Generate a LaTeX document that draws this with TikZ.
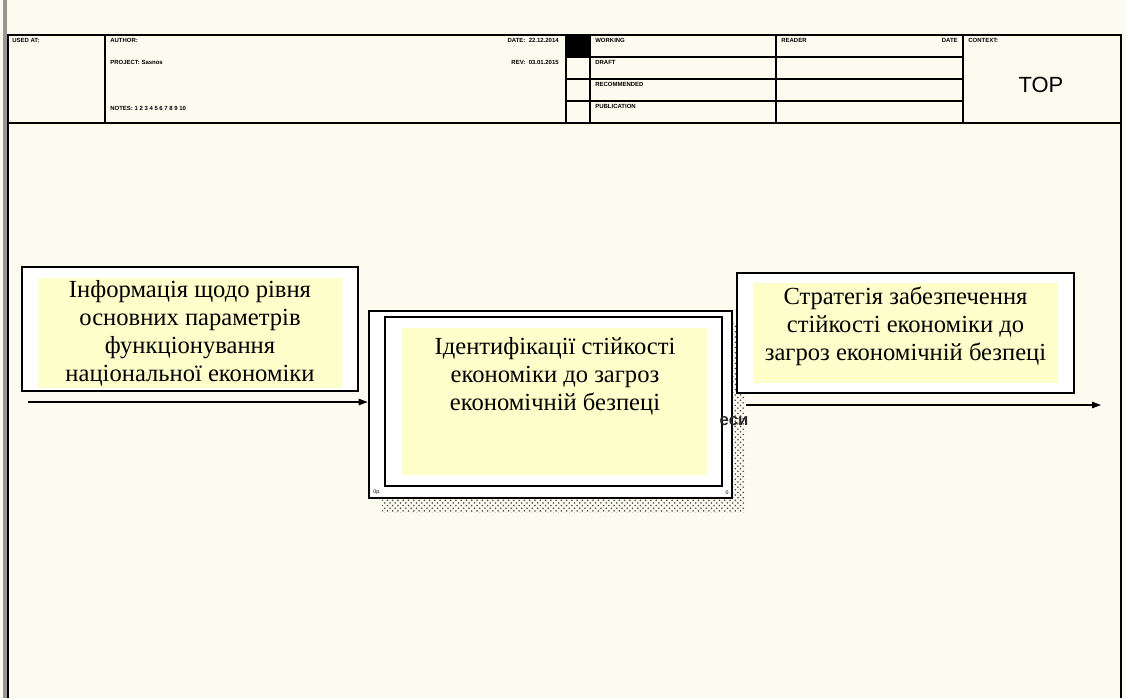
\documentclass[tikz,border=0pt]{standalone}
\usepackage{fontspec}
\setmainfont{Liberation Serif}
\newfontfamily\hdrfont{Liberation Sans}
\usetikzlibrary{arrows.meta, positioning, patterns}
\definecolor{pagecream}{RGB}{253, 250, 240}
\definecolor{boxyellow}{RGB}{255, 255, 204}
\definecolor{margingray}{RGB}{150, 150, 150}
\definecolor{shadowgray}{RGB}{70, 70, 70}

\begin{document}
\begin{tikzpicture}[
  x=0.02cm, y=-0.02cm,
  hdr/.style={font=\hdrfont\bfseries\fontsize{3.4}{4}\selectfont, anchor=north west, inner sep=0pt},
  arrowbox/.style={rectangle, draw, line width=1.1pt, fill=white, inner sep=0pt},
  yellowfill/.style={rectangle, fill=boxyellow, inner sep=0pt},
  boxtext/.style={inner sep=0pt, align=center, font=\fontsize{14}{16}\selectfont},
  arrow/.style={-{Triangle[length=1.8mm, width=1.3mm]}, line width=0.6pt}
]
\useasboundingbox (0,0) rectangle (1126,698);
\fill[pagecream] (0,0) rectangle (1126,698);

% Page frame
\draw[margingray, line width=2pt] (5,0) -- (5,698);
\draw[line width=0.7pt] (8,698) -- (8,35) -- (1121,35) -- (1121,698);
\draw[line width=1pt] (8,123) -- (1121,123);

% Header cells
\draw[line width=0.7pt] (105,35) -- (105,123);
\draw[line width=0.7pt] (566,35) -- (566,123);
\draw[line width=0.7pt] (590,35) -- (590,123);
\draw[line width=0.7pt] (776,35) -- (776,123);
\draw[line width=0.7pt] (963,35) -- (963,123);
\foreach \y in {57,79,101}
  \draw[line width=0.7pt] (566,\y) -- (963,\y);
\fill (566,35) rectangle (590,57);

% Header texts
\node[hdr] (usedat) at (12,38) {USED AT:};
\node[hdr] (author) at (110,38) {AUTHOR:};
\node[hdr] (project) at (110,60) {PROJECT: Sasnos};
\node[hdr] (notes) at (110,106) {NOTES: 1 2 3 4 5 6 7 8 9 10};
\node[hdr, anchor=north east] (date) at (559,38) {DATE:\ \ 22.12.2014};
\node[hdr, anchor=north east] (rev) at (559,60) {REV:\ \ 03.01.2015};
\node[hdr] (working) at (595,38) {WORKING};
\node[hdr] (draft) at (595,60) {DRAFT};
\node[hdr] (recommended) at (595,82) {RECOMMENDED};
\node[hdr] (publication) at (595,104) {PUBLICATION};
\node[hdr] (reader) at (781,38) {READER};
\node[hdr, anchor=north east] (rdate) at (958,38) {DATE};
\node[hdr] (context) at (968,38) {CONTEXT:};
\node[font=\hdrfont\fontsize{12.5}{14}\selectfont, inner sep=0pt] (ctxtop) at (1041,85) {TOP};

% Input
\node[arrowbox, minimum width=6.72cm, minimum height=2.48cm] (inbox) at (190,329) {};
\node[yellowfill, boxtext, minimum width=6.08cm, minimum height=2.2cm] (intxt) at (190,333)
  {Інформація щодо рівня\\основних параметрів\\функціонування\\національної економіки};

% Function box with shadow
\fill[pattern=crosshatch dots, pattern color=shadowgray] (382,322) rectangle (745,512);
\node[arrowbox, line width=1.6pt, minimum width=7.26cm, minimum height=3.74cm] (func) at (550.5,404.5) {};
\node[arrowbox, minimum width=6.74cm, minimum height=3.38cm] (funcin) at (553.5,401.5) {};
\node[yellowfill, minimum width=6.1cm, minimum height=2.94cm] (funcbg) at (554.5,401.5) {};
\node[boxtext, anchor=north] (functxt) at (555,337)
  {Ідентифікації стійкості\\економіки до загроз\\економічній безпеці};
\node[hdr, font=\hdrfont\fontsize{3}{4}\selectfont, anchor=south west] (cost) at (373,495) {0р.};
\node[hdr, font=\hdrfont\fontsize{3}{4}\selectfont, anchor=south east] (nodenum) at (729,495) {0};
\node[font=\hdrfont\bfseries\fontsize{9.5}{10}\selectfont, text=black!85, inner sep=0pt] (hiddenlbl) at (734,421) {еси};

% Output
\node[arrowbox, minimum width=6.74cm, minimum height=2.4cm] (outbox) at (905.5,333) {};
\node[yellowfill, minimum width=6.1cm, minimum height=2cm] (outbg) at (905.5,333) {};
\node[boxtext] (outtxt) at (905.5,326)
  {Стратегія забезпечення\\стійкості економіки до\\загроз економічній безпеці};

% Arrows
\coordinate (inbeg) at (28,402);
\coordinate (outend) at (1101,405);
\draw[arrow] (inbeg) -- (inbeg -| func.west);
\draw[arrow] ([xshift=0.26cm]func.east |- outend) -- (outend);

\end{tikzpicture}
\end{document}
